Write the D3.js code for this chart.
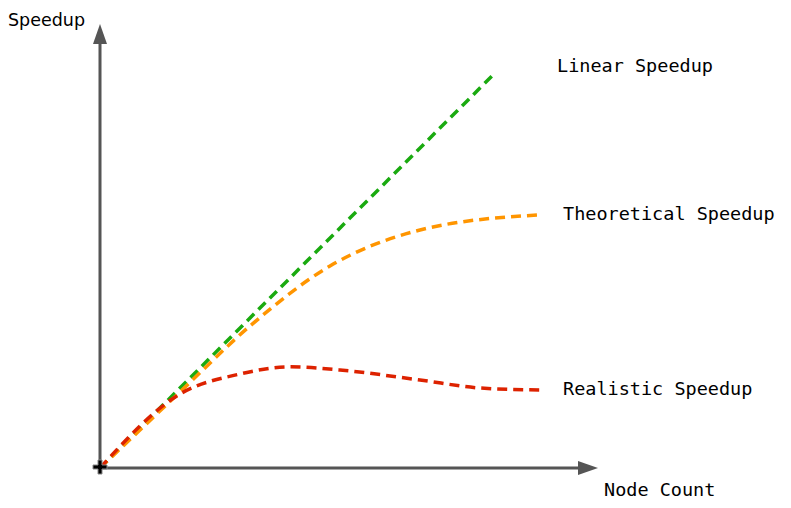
<!DOCTYPE html><html><head><meta charset="utf-8"><script src="https://cdn.jsdelivr.net/npm/d3@7"></script>
<style>body{margin:0;background:#fff}</style></head><body><svg id="c" width="791" height="508"></svg><script>
const linearX=[0,9.825], linearY=[0,9.825];
const theoX=[0,2,3.75,5.75,8,11], theoY=[0,1.9,3.55,5.05,5.95,6.33];
const realX=[0,2,3.5,4.75,6,8,9.5,11], realY=[0,1.85,2.35,2.53,2.45,2.2,2.0,1.95];
const labels=["Linear Speedup","Theoretical Speedup","Realistic Speedup"];
const svg=d3.select("#c");
const x=d3.scaleLinear().domain([0,11]).range([100,540]);
const y=d3.scaleLinear().domain([0,10]).range([468,68]);
const mono="'DejaVu Sans Mono', monospace";
svg.append("line").attr("x1",100).attr("y1",468).attr("x2",100).attr("y2",40).attr("stroke","#555").attr("stroke-width",3);
svg.append("path").attr("d","M100,24 L93,44 L107,44 Z").attr("fill","#555");
svg.append("line").attr("x1",100).attr("y1",468).attr("x2",582).attr("y2",468).attr("stroke","#555").attr("stroke-width",3);
svg.append("path").attr("d","M598,468 L578,461 L578,475 Z").attr("fill","#555");
const line=d3.line().x(d=>x(d[0])).y(d=>y(d[1])).curve(d3.curveMonotoneX);
const sets=[[linearX,linearY,"#1aaa10"],[theoX,theoY,"#ff9500"],[realX,realY,"#dd2200"]];
sets.forEach(([xs,ys,c])=>{svg.append("path").attr("d",line(xs.map((v,i)=>[v,ys[i]]))).attr("fill","none").attr("stroke",c).attr("stroke-width",3.5).attr("stroke-dasharray","10,6");});
svg.append("path").attr("d","M98,461h4v5h5v4h-5v5h-4v-5h-5v-4h5z").attr("transform","translate(0,-1)").attr("fill","#000").attr("stroke","#888").attr("stroke-width",1);
const lp=[[557,72],[563,220],[563,395]];
labels.forEach((t,i)=>svg.append("text").attr("x",lp[i][0]).attr("y",lp[i][1]).attr("font-family",mono).attr("font-size",18.5).attr("fill","#000").text(t));
svg.append("text").attr("x",604).attr("y",496).attr("font-family",mono).attr("font-size",18.5).text("Node Count");
svg.append("text").attr("x",8).attr("y",26).attr("font-family","'DejaVu Sans',sans-serif").attr("font-size",17.5).text("Speedup");
</script></body></html>
